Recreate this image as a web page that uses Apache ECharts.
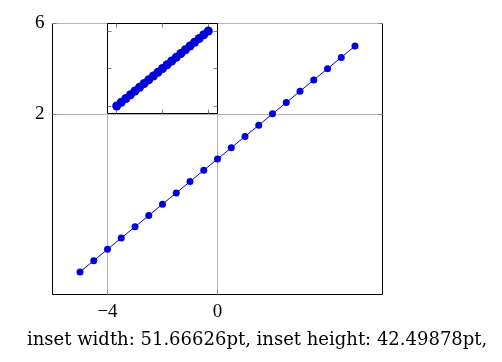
<!DOCTYPE html>
<html><head><meta charset="utf-8">
<script src="https://cdn.jsdelivr.net/npm/echarts@6/dist/echarts.min.js"></script>
<style>html,body{margin:0;padding:0;background:#fff}#c{width:502px;height:362px}</style>
</head><body><div id="c"></div>
<script>
const xValues = [-5,-4.5,-4,-3.5,-3,-2.5,-2,-1.5,-1,-0.5,0,0.5,1,1.5,2,2.5,3,3.5,4,4.5,5];
const yValues = [-5,-4.5,-4,-3.5,-3,-2.5,-2,-1.5,-1,-0.5,0,0.5,1,1.5,2,2.5,3,3.5,4,4.5,5];
const mainXTicks = [-4, 0];
const mainYTicks = [2, 6];
const insetTicks = [-5, 0, 5];
const caption = 'inset width: 51.66626pt, inset height: 42.49878pt,';

const points = xValues.map((x, i) => [x, yValues[i]]);
const font = 'Liberation Serif';
const tickColor = '#808080';
const fmt = v => String(v).replace('-', '\u2212');

function axis(opts) {
  return {
    type: 'value', min: -6, max: 6,
    axisLine: { show: false, onZero: false },
    axisTick: { show: true, inside: true, length: 4, lineStyle: { color: tickColor, width: 1 }, customValues: opts.ticks },
    axisLabel: { show: !!opts.labels, customValues: opts.ticks, fontFamily: font, fontSize: 19, color: '#000', margin: 8, formatter: fmt },
    splitLine: { show: !!opts.split, lineStyle: { color: '#b4b4b4', width: 1 } },
    gridIndex: opts.grid, position: opts.position, z: opts.z || 0
  };
}

const chart = echarts.init(document.getElementById('c'), null, { renderer: 'canvas' });
chart.setOption({
  animation: false,
  backgroundColor: '#fff',
  grid: [
    { left: 52.5, top: 23.5, width: 330, height: 271, show: true, borderColor: '#000', borderWidth: 1, backgroundColor: 'transparent', z: 0 },
    { left: 107.5, top: 23.5, width: 110, height: 90, show: true, borderColor: '#000', borderWidth: 1, backgroundColor: '#fff', z: 3 }
  ],
  xAxis: [
    axis({ ticks: mainXTicks, labels: true, split: true, grid: 0, position: 'bottom' }),
    axis({ ticks: mainXTicks, grid: 0, position: 'top' }),
    axis({ ticks: insetTicks, grid: 1, position: 'bottom', z: 3 }),
    axis({ ticks: insetTicks, grid: 1, position: 'top', z: 3 })
  ],
  yAxis: [
    axis({ ticks: mainYTicks, labels: true, split: true, grid: 0, position: 'left' }),
    axis({ ticks: mainYTicks, grid: 0, position: 'right' }),
    axis({ ticks: insetTicks, grid: 1, position: 'left', z: 3 }),
    axis({ ticks: insetTicks, grid: 1, position: 'right', z: 3 })
  ],
  series: [
    { type: 'line', xAxisIndex: 0, yAxisIndex: 0, data: points, symbol: 'circle', symbolSize: 7,
      lineStyle: { color: '#0000d8', width: 1 }, itemStyle: { color: '#0000d8' }, z: 2 },
    { type: 'line', xAxisIndex: 2, yAxisIndex: 2, data: points, symbol: 'circle', symbolSize: 9,
      lineStyle: { color: '#0000d8', width: 2 }, itemStyle: { color: '#0000d8' }, z: 5 }
  ],
  graphic: [
    { type: 'text', left: 27, top: 331, z: 10,
      style: { text: caption, font: '18px "DejaVu Serif"', fill: '#000' } }
  ]
});
</script></body></html>
